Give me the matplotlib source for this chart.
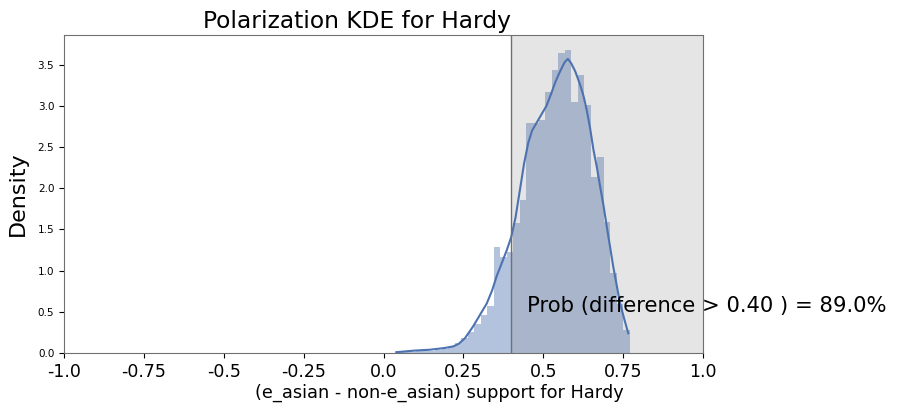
import numpy as np
import matplotlib
matplotlib.use("Agg")
import matplotlib.pyplot as plt

# Histogram (density)
bin_start = 0.04
bin_width = 0.0203
hist_density = [0.01, 0.01, 0.01, 0.02, 0.02, 0.03, 0.04, 0.05, 0.07, 0.12,
                0.18, 0.26, 0.35, 0.46, 0.57, 1.29, 1.17, 1.22, 1.58, 1.86,
                2.79, 2.79, 2.83, 3.17, 3.44, 3.64, 3.68, 3.05, 3.38, 3.01,
                2.14, 2.38, 1.59, 0.97, 0.60, 0.28]

# KDE curve points
kde_x = [0.04, 0.07, 0.10, 0.146, 0.19, 0.218, 0.235, 0.255, 0.28, 0.30,
         0.323, 0.34, 0.354, 0.37, 0.386, 0.40, 0.413, 0.427, 0.44, 0.453,
         0.465, 0.48, 0.495, 0.51, 0.525, 0.537, 0.548, 0.558, 0.567, 0.577,
         0.587, 0.60, 0.615, 0.626, 0.636, 0.647, 0.657, 0.668, 0.678, 0.689,
         0.699, 0.709, 0.719, 0.730, 0.740, 0.753, 0.766]
kde_y = [0.01, 0.02, 0.03, 0.04, 0.06, 0.08, 0.11, 0.18, 0.32, 0.45,
         0.60, 0.76, 0.93, 1.09, 1.25, 1.41, 1.64, 1.98, 2.30, 2.55,
         2.70, 2.80, 2.90, 3.00, 3.15, 3.28, 3.38, 3.46, 3.53, 3.57,
         3.52, 3.42, 3.26, 3.12, 2.95, 2.72, 2.47, 2.25, 2.02, 1.78,
         1.53, 1.29, 1.05, 0.82, 0.61, 0.42, 0.24]

threshold = 0.40
prob_pct = 89.0
xtick_vals = [-1.0, -0.75, -0.5, -0.25, 0.0, 0.25, 0.5, 0.75, 1.0]
xtick_labels = ["-1.0", "-0.75", "-0.5", "-0.25", "0.0", "0.25", "0.5", "0.75", "1.0"]
ytick_vals = [0.0, 0.5, 1.0, 1.5, 2.0, 2.5, 3.0, 3.5]

blue = "#4C72B0"

fig = plt.figure(figsize=(9.19, 4.08), dpi=100)
ax = fig.add_axes([64/919, 55/408, 639/919, 318/408])

edges = bin_start + bin_width * np.arange(len(hist_density))
ax.bar(edges, hist_density, width=bin_width, align="edge", color=blue,
       alpha=0.42, linewidth=0)
ax.plot(kde_x, kde_y, color=blue, linewidth=1.5)

ax.axvspan(threshold, 1.0, color="grey", alpha=0.2, linewidth=0)
ax.axvline(threshold, color="#707070", linewidth=1.0)

ax.set_xlim(-1, 1)
ax.set_ylim(0, 3.86)
ax.set_xticks(xtick_vals)
ax.set_xticklabels(xtick_labels, fontsize=12.5)
ax.set_yticks(ytick_vals)
ax.tick_params(axis="y", labelsize=7.5)
for s in ax.spines.values():
    s.set_color("#707070")

ax.set_ylabel("Density", fontsize=16, labelpad=7)
ax.set_xlabel("(e_asian - non-e_asian) support for Hardy", fontsize=12.8,
              x=(439 - 64) / 639, labelpad=2)
ax.set_title("Polarization KDE for Hardy", fontsize=16.8, x=(357 - 64) / 639, pad=5)

ax.text(0.45, 0.5, f"Prob (difference > {threshold:.2f} ) = {prob_pct:.1f}%",
        fontsize=15.2, ha="left", va="baseline", clip_on=False)

fig.savefig("out.png", dpi=100)
